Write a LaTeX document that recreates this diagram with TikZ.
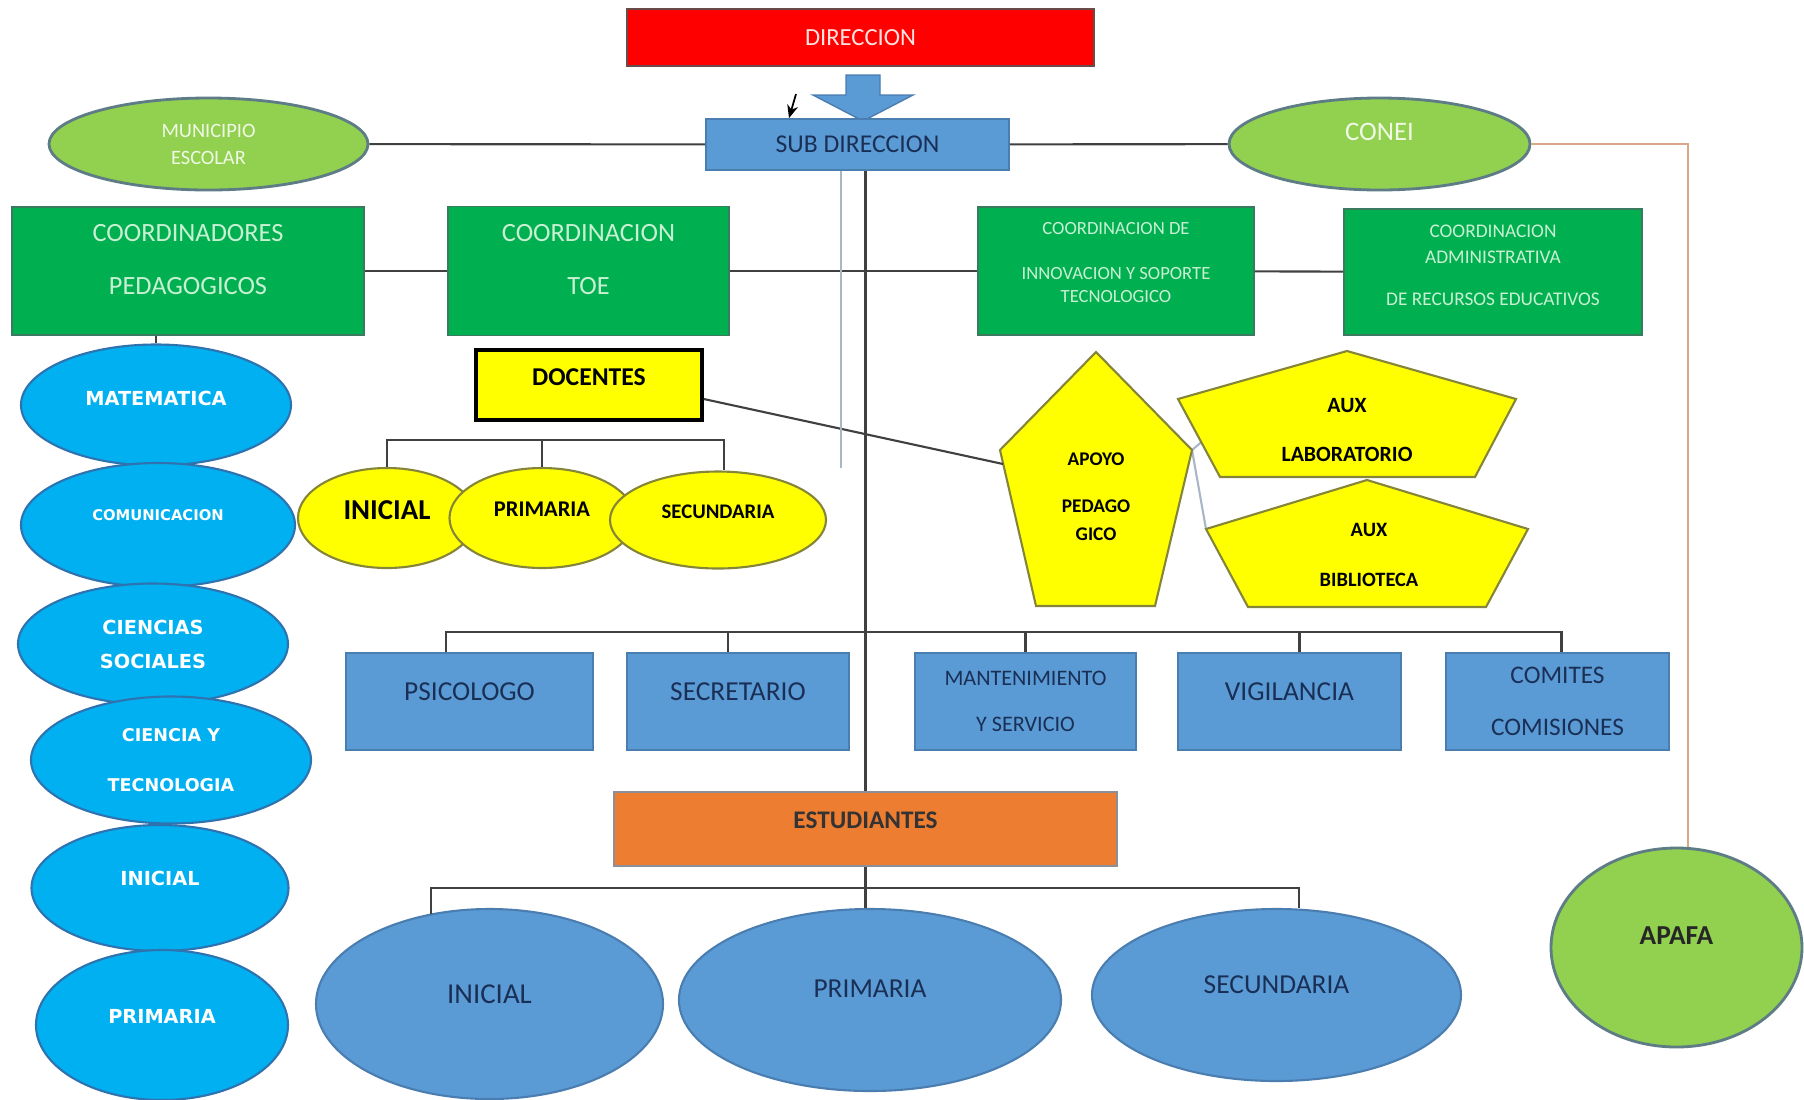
\documentclass[tikz,border=0pt]{standalone}
\usepackage{fontspec}
\setmainfont{Carlito}
\newfontfamily\areafont{DejaVu Sans}
\usetikzlibrary{arrows.meta,positioning,calc,shapes.geometric}
\definecolor{ink}{HTML}{404040}
\definecolor{mist}{HTML}{A9B6C8}
\definecolor{parentline}{HTML}{D9A88A}
\definecolor{red1}{HTML}{FF0000}
\definecolor{rededge}{HTML}{6B4A4A}
\definecolor{redtext}{HTML}{FDE4E0}
\definecolor{blue1}{HTML}{5B9BD5}
\definecolor{blueedge}{HTML}{4A7DB0}
\definecolor{navy}{HTML}{1A2F55}
\definecolor{green1}{HTML}{00B050}
\definecolor{greenedge}{HTML}{3A7A5E}
\definecolor{greentext}{HTML}{C8F0D2}
\definecolor{lime}{HTML}{92D050}
\definecolor{limeedge}{HTML}{5D7C86}
\definecolor{limetext}{HTML}{F0F8E6}
\definecolor{cyan1}{HTML}{00B0F0}
\definecolor{cyanedge}{HTML}{2F72B0}
\definecolor{yellow1}{HTML}{FFFF00}
\definecolor{yellowedge}{HTML}{85853A}
\definecolor{orange1}{HTML}{ED7D31}
\definecolor{orangeedge}{HTML}{8A8F99}
\tikzset{
  link/.style={draw=ink,line width=0.6pt},
  faint/.style={draw=mist,line width=0.6pt},
  apafalink/.style={draw=parentline,line width=0.6pt},
  box/.style={rectangle,inner sep=0pt,line width=0.5pt,align=center},
  greenbox/.style={box,draw=greenedge,fill=green1,text=greentext},
  bluebox/.style={box,draw=blueedge,fill=blue1,text=navy},
  limebubble/.style={ellipse,inner sep=0pt,draw=limeedge,fill=lime,text=limetext,line width=0.8pt,align=center},
  areabubble/.style={ellipse,inner sep=0pt,draw=cyanedge,fill=cyan1,text=white,line width=0.6pt,align=center,font=\areafont\bfseries\fontsize{5.5}{7}\selectfont},
  levelbubble/.style={ellipse,inner sep=0pt,draw=yellowedge,fill=yellow1,text=black,line width=0.6pt,align=center},
  studbubble/.style={ellipse,inner sep=0pt,draw=blueedge,fill=blue1,text=navy,line width=0.6pt,align=center},
  pentagon/.style={draw=yellowedge,fill=yellow1,line width=0.6pt},
  pentext/.style={align=center,text=black,inner sep=0pt},
}

\begin{document}
\begin{tikzpicture}[x=1cm,y=1cm]
\useasboundingbox (0,0) rectangle (18.04,-10.99);
\fill[white] (0,0) rectangle (18.04,-10.99);

% Direccion / sub direccion ----------------------------------------------------
\node[box,draw=rededge,fill=red1,text=redtext,minimum width=4.67cm,minimum height=0.57cm,font=\fontsize{7}{8}\selectfont] (direc) at (8.605,-0.375) {DIRECCION};
\filldraw[fill=blue1,draw=blueedge,line width=0.4pt] (8.46,-0.75) -- (8.80,-0.75) -- (8.80,-0.95) -- (9.13,-0.95) -- (8.63,-1.21) -- (8.13,-0.95) -- (8.46,-0.95) -- cycle;
\node[bluebox,minimum width=3.03cm,minimum height=0.51cm,font=\fontsize{7.3}{9}\selectfont] (sub) at (8.575,-1.445) {SUB DIRECCION};
\coordinate (nota) at (7.96,-0.94);
\draw[-{Stealth[length=1.3mm,width=1.1mm]},line width=0.5pt] (nota) -- ([xshift=-6.85mm]sub.north);

% Municipio escolar, CONEI, APAFA ----------------------------------------------
\node[limebubble,minimum width=3.19cm,minimum height=0.92cm,font=\fontsize{5.8}{7.7}\selectfont] (muni) at (2.085,-1.44) {MUNICIPIO\\ESCOLAR};
\node[limebubble,minimum width=3.01cm,minimum height=0.92cm,text depth=2.4mm,font=\fontsize{7.6}{9}\selectfont] (conei) at (13.795,-1.44) {CONEI};
\node[limebubble,minimum width=2.51cm,minimum height=1.99cm,text=black!85,text depth=2.4mm,font=\bfseries\fontsize{7.8}{9}\selectfont] (apafa) at (16.765,-9.475) {APAFA};
\draw[link] (muni) -- (sub);
\draw[link] (sub) -- (conei);
\draw[apafalink] (conei.east) -| ([xshift=1.15mm]apafa.north);

% Coordinaciones -------------------------------------------------------------
\node[greenbox,minimum width=3.52cm,minimum height=1.28cm,text depth=2.3mm,font=\fontsize{7.5}{9}\selectfont] (coordped) at (1.88,-2.71) {COORDINADORES\\[6pt]PEDAGOGICOS};
\node[greenbox,minimum width=2.81cm,minimum height=1.29cm,text depth=2.3mm,font=\fontsize{7.5}{9}\selectfont] (toe) at (5.885,-2.71) {COORDINACION\\[6pt]TOE};
\node[greenbox,minimum width=2.76cm,minimum height=1.28cm,text depth=1.7mm,font=\fontsize{5.3}{6.8}\selectfont] (innov) at (11.16,-2.71) {COORDINACION DE\\[6pt]INNOVACION Y SOPORTE\\TECNOLOGICO};
\node[greenbox,minimum width=2.98cm,minimum height=1.26cm,text depth=1.4mm,font=\fontsize{5.5}{7.4}\selectfont] (admin) at (14.93,-2.72) {COORDINACION\\ADMINISTRATIVA\\[4.6pt]DE RECURSOS EDUCATIVOS};
\draw[link] (coordped) -- (toe);
\draw[link] (toe) -- (innov);
\draw[link] (innov) -- (admin);

% Areas curriculares ---------------------------------------------------------
\node[areabubble,minimum width=2.70cm,minimum height=1.21cm,text depth=1.4mm] (matem) at (1.56,-4.05) {MATEMATICA};
\node[areabubble,minimum width=2.74cm,minimum height=1.24cm,text depth=2mm,font=\areafont\bfseries\fontsize{4.2}{5}\selectfont] (comun) at (1.58,-5.25) {COMUNICACION};
\node[areabubble,minimum width=2.70cm,minimum height=1.21cm,font=\areafont\bfseries\fontsize{5.5}{9.7}\selectfont] (csoc) at (1.53,-6.44) {CIENCIAS\\SOCIALES};
\node[areabubble,minimum width=2.80cm,minimum height=1.27cm,font=\areafont\bfseries\fontsize{5}{6}\selectfont] (ctec) at (1.71,-7.60) {CIENCIA Y\\[8pt]TECNOLOGIA};
\node[areabubble,minimum width=2.57cm,minimum height=1.26cm,text depth=2mm] (inicA) at (1.60,-8.88) {INICIAL};
\node[areabubble,minimum width=2.52cm,minimum height=1.50cm,text depth=1.8mm] (primA) at (1.62,-10.25) {PRIMARIA};
\draw[link] (coordped.south -| matem.north) -- (matem.north);

% Docentes ------------------------------------------------------------------
\node[box,draw=black,fill=yellow1,line width=1pt,minimum width=2.26cm,minimum height=0.70cm,text depth=1.6mm,font=\bfseries\fontsize{7.3}{9}\selectfont] (docen) at (5.89,-3.85) {DOCENTES};
\node[levelbubble,minimum width=1.78cm,minimum height=1.00cm,text depth=1.6mm,font=\bfseries\fontsize{8.2}{9}\selectfont] (inicY) at (3.87,-5.18) {INICIAL};
\node[levelbubble,minimum width=1.85cm,minimum height=1.00cm,text depth=1.8mm,font=\bfseries\fontsize{6.4}{8}\selectfont] (primY) at (5.42,-5.18) {PRIMARIA};
\node[levelbubble,minimum width=2.16cm,minimum height=0.97cm,text depth=1.6mm,font=\bfseries\fontsize{5.9}{7}\selectfont] (secY) at (7.18,-5.20) {SECUNDARIA};
\draw[link] (inicY.north) -- ++(0,0.27) -| ([xshift=0.6mm]secY.north);
\draw[link] (primY.north) -- ++(0,0.27);

% Apoyo pedagogico y auxiliares ---------------------------------------------
\coordinate (apoyoW) at (10.03,-4.64);
\coordinate (apoyoE) at (11.92,-4.50);
\coordinate (labSW) at (12.015,-4.42);
\coordinate (bibW) at (12.06,-5.29);
\draw[faint] (apoyoE) -- (labSW);
\draw[faint] (apoyoE) -- (bibW);
\draw[pentagon] (10.96,-3.52) -- (11.92,-4.50) -- (11.55,-6.06) -- (10.36,-6.06) -- (10.00,-4.50) -- cycle;
\draw[pentagon] (13.47,-3.51) -- (15.16,-3.99) -- (14.75,-4.77) -- (12.20,-4.77) -- (11.78,-3.99) -- cycle;
\draw[pentagon] (13.67,-4.80) -- (15.28,-5.29) -- (14.86,-6.07) -- (12.48,-6.07) -- (12.06,-5.29) -- cycle;
\node[pentext,font=\bfseries\fontsize{5.5}{8}\selectfont] (apoyo) at (10.96,-4.97) {APOYO\\[5.4pt]PEDAGO\\GICO};
\node[pentext,font=\bfseries\fontsize{6.2}{7.5}\selectfont] (auxlab) at (13.47,-4.30) {AUX\\[6.5pt]LABORATORIO};
\node[pentext,font=\bfseries\fontsize{5.8}{7.5}\selectfont] (auxbib) at (13.69,-5.55) {AUX\\[6.5pt]BIBLIOTECA};
\draw[link] ([yshift=-1.4mm]docen.east) -- (apoyoW);

% Personal de apoyo ----------------------------------------------------------
\node[bluebox,minimum width=2.47cm,minimum height=0.97cm,text depth=2mm,font=\fontsize{7.8}{9}\selectfont] (psico) at (4.695,-7.015) {PSICOLOGO};
\node[bluebox,minimum width=2.22cm,minimum height=0.97cm,text depth=2mm,font=\fontsize{7.8}{9}\selectfont] (secre) at (7.38,-7.015) {SECRETARIO};
\node[bluebox,minimum width=2.21cm,minimum height=0.97cm,font=\fontsize{6.3}{7.5}\selectfont] (mante) at (10.255,-7.015) {MANTENIMIENTO\\[5.5pt]Y SERVICIO};
\node[bluebox,minimum width=2.23cm,minimum height=0.97cm,text depth=2mm,font=\fontsize{7.8}{9}\selectfont] (vigil) at (12.895,-7.015) {VIGILANCIA};
\node[bluebox,minimum width=2.23cm,minimum height=0.97cm,font=\fontsize{7.2}{8.6}\selectfont] (comit) at (15.575,-7.015) {COMITES\\[6pt]COMISIONES};
\draw[link] ([xshift=-2.35mm]psico.north) -- ++(0,0.20) -| ([xshift=0.4mm]comit.north);
\draw[link] ([xshift=-1mm]secre.north) -- ++(0,0.20);
\draw[link] (mante.north) -- ++(0,0.20);
\draw[link] ([xshift=1mm]vigil.north) -- ++(0,0.20);

% Estudiantes ---------------------------------------------------------------
\node[box,draw=orangeedge,fill=orange1,text=black!80,minimum width=5.03cm,minimum height=0.74cm,text depth=1.8mm,font=\bfseries\fontsize{7.2}{9}\selectfont] (estud) at (8.655,-8.29) {ESTUDIANTES};
\draw[link] (estud.north) -- (estud.north |- sub.south);
\draw[faint] ([xshift=-1.65mm]sub.south) -- ++(0,-2.97);

\node[studbubble,minimum width=3.47cm,minimum height=1.90cm,text depth=2mm,font=\fontsize{8.2}{9}\selectfont] (studI) at (4.895,-10.04) {INICIAL};
\node[studbubble,minimum width=3.82cm,minimum height=1.82cm,text depth=2.2mm,font=\fontsize{7.8}{9}\selectfont] (studP) at (8.70,-10.00) {PRIMARIA};
\node[studbubble,minimum width=3.69cm,minimum height=1.72cm,text depth=2mm,font=\fontsize{7.8}{9}\selectfont] (studS) at (12.765,-9.95) {SECUNDARIA};
\coordinate (studbar) at (0,-8.88);
\draw[link] (studI.123) -- (studI.123 |- studbar) -| ([xshift=2.25mm]studS.north);
\draw[link] (estud.south) -- (estud.south |- studP.north);

\end{tikzpicture}
\end{document}
